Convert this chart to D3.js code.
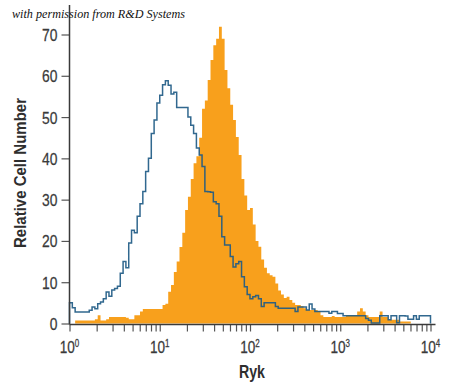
<!DOCTYPE html>
<html><head><meta charset="utf-8">
<script src="https://cdn.jsdelivr.net/npm/d3@7"></script>
<style>body{margin:0;background:#fff}svg{display:block}</style>
</head><body><svg id="c" width="450" height="387"></svg>
<script>
// ---- data ----
const binsPerDecade = 32;            // histogram channels per log decade, starting at 10^0
const controlCounts = [
  5.0,3.8,2.8,2.8,2.8,2.8,2.8,3.2,4.0,3.6,
  4.8,5.2,6.0,7.6,6.6,8.1,8.5,9.0,12.2,15.0,
  13.5,19.5,22.6,22.0,26.0,29.0,32.0,36.8,40.0,46.0,
  49.3,53.4,55.3,57.8,58.8,57.7,55.6,56.0,52.3,52.3,
  52.3,52.3,50.0,48.0,46.0,42.5,40.8,38.0,32.0,31.9,
  31.8,29.5,29.0,26.0,21.0,19.0,19.0,16.2,13.7,14.5,
  15.0,11.3,8.9,7.0,6.0,6.5,6.8,6.0,4.1,5.0,
  5.0,5.0,5.0,4.1,3.7,3.7,3.7,3.7,3.7,3.7,
  2.9,4.0,4.0,4.0,3.3,4.7,3.5,2.9,2.9,2.9,
  2.9,2.9,2.5,2.9,2.9,2.4,2.4,1.9,1.9,1.9,
  1.9,1.9,1.9,1.9,1.9,1.2,0.8,0.1,0.1,0.1,
  1.9,1.9,1.9,0.9,1.9,1.9,0.2,1.9,1.9,1.8,
  1.0,1.0,1.9,1.0,1.9,1.9,1.9,1.9
];
const rykCounts = [
  0,0,0.7,0.7,0.7,0.7,0.7,0.7,0.7,1.0,
  2.0,0.7,0.7,1.0,1.6,1.6,1.6,1.6,1.6,1.6,
  1.4,1.0,1.0,2.0,2.0,2.9,3.5,3.5,3.5,3.5,
  3.5,3.5,3.5,4.5,4.8,7.7,9.3,12.5,15.0,18.5,
  22.0,27.5,30.7,35.0,38.8,40.5,45.0,52.0,54.0,59.0,
  63.8,67.4,69.0,71.9,69.0,61.4,57.0,53.0,49.3,45.2,
  40.8,35.0,31.0,27.5,28.0,24.0,20.0,18.6,15.5,13.5,
  12.2,11.7,11.3,9.7,8.0,7.0,6.2,6.5,5.7,5.0,
  4.5,4.5,4.2,3.7,3.3,3.3,3.3,3.3,3.0,2.0,
  1.6,1.6,1.6,1.8,1.6,1.6,1.6,1.6,2.0,2.0,
  2.0,2.0,2.9,3.7,2.9,2.0,1.6,1.6,1.6,1.6,
  2.9,1.6,1.6,0.9,0.9,0.9,0.9,0.5,0.5,0.5,
  0.5,0,0,0,0,0,0,0
];
const xTickExponents = [0, 1, 2, 3, 4];
const xMinorMultipliers = [2, 3, 4, 5, 6, 7, 8, 9];
const yTickValues = [0, 10, 20, 30, 40, 50, 60, 70];
const titleText = "with permission from R&D Systems";
const xTitleText = "Ryk";
const yTitleText = "Relative Cell Number";

// ---- drawing ----
const svg = d3.select("#c");
const x = d3.scaleLog().domain([1, 1e4]).range([69.5, 430.5]);
const y = d3.scaleLinear().domain([0, 70]).range([323.5, 34.5]);
const edge = i => Math.pow(10, i / binsPerDecade);

function stepPoints(counts) {
  const pts = counts.map((v, i) => [edge(i), v]);
  pts.push([edge(counts.length), counts[counts.length - 1]]);
  return pts;
}

// Ryk filled histogram
const area = d3.area()
  .x(d => x(d[0])).y0(y(0)).y1(d => y(d[1]))
  .curve(d3.curveStepAfter);
svg.append("path")
  .attr("d", area(stepPoints(rykCounts)))
  .attr("fill", "#f8a01c");

// Control outline histogram
const ctrlPts = [[edge(0), 0], ...stepPoints(controlCounts), [edge(controlCounts.length), 0]];
const line = d3.line().x(d => x(d[0])).y(d => y(d[1])).curve(d3.curveStepAfter);
svg.append("path")
  .attr("d", line(ctrlPts))
  .attr("fill", "none")
  .attr("stroke", "#1f5b86")
  .attr("stroke-width", 1.5)
  .attr("stroke-opacity", 0.92);

const axisColor = "#3a3a3a";
const labelFont = "'Liberation Sans', Arial, sans-serif";
const squeeze = 0.84;

// Y axis
const yAxis = svg.append("g").attr("transform", `translate(${x(1)},0)`)
  .call(d3.axisLeft(y).tickValues(yTickValues).tickSize(8).tickPadding(3));
yAxis.select(".domain").remove();
yAxis.selectAll(".tick line").attr("stroke", "#555").attr("stroke-width", 1.2);
yAxis.selectAll(".tick text")
  .attr("font-family", labelFont).attr("font-size", 16.5).attr("fill", "#3a3a3a")
  .attr("stroke", "#3a3a3a").attr("stroke-width", 0.25)
  .attr("x", -12 / squeeze).attr("dy", "0.36em")
  .attr("transform", `scale(${squeeze},1)`);
svg.append("line")
  .attr("x1", x(1)).attr("x2", x(1)).attr("y1", 5).attr("y2", y(0) + 1)
  .attr("stroke", axisColor).attr("stroke-width", 1.5);

// X axis
const xTickVals = [];
xTickExponents.forEach(e => {
  xTickVals.push(Math.pow(10, e));
  if (e < 4) xMinorMultipliers.forEach(m => xTickVals.push(m * Math.pow(10, e)));
});
const xAxis = svg.append("g").attr("transform", `translate(0,${y(0) + 1})`)
  .call(d3.axisBottom(x).tickValues(xTickVals).tickSize(7).tickFormat(""));
xAxis.select(".domain").remove();
xAxis.selectAll(".tick line").attr("stroke", "#555").attr("stroke-width", 1.2);
svg.append("line")
  .attr("x1", x(1)).attr("x2", x(1e4) + 5).attr("y1", y(0) + 1).attr("y2", y(0) + 1)
  .attr("stroke", axisColor).attr("stroke-width", 1.5);

xTickExponents.forEach(e => {
  const g = svg.append("g")
    .attr("transform", `translate(${x(Math.pow(10, e))},352.5) scale(0.8,1)`);
  const t = g.append("text")
    .attr("x", 0).attr("y", 0)
    .attr("text-anchor", "middle")
    .attr("font-family", labelFont).attr("font-size", 17).attr("fill", "#3a3a3a")
    .attr("stroke", "#3a3a3a").attr("stroke-width", 0.25);
  t.append("tspan").text("10");
  t.append("tspan").attr("dy", -5.5).attr("font-size", 10).text(String(e));
});

// Titles
svg.append("text")
  .attr("x", 252).attr("y", 378).attr("text-anchor", "middle")
  .attr("font-family", labelFont).attr("font-weight", "bold")
  .attr("font-size", 17.5).attr("fill", "#2e2e2e")
  .attr("textLength", 26).attr("lengthAdjust", "spacingAndGlyphs")
  .text(xTitleText);
svg.append("text")
  .attr("transform", "translate(26,173) rotate(-90)").attr("text-anchor", "middle")
  .attr("font-family", labelFont).attr("font-weight", "bold")
  .attr("font-size", 17).attr("fill", "#2e2e2e")
  .attr("textLength", 150).attr("lengthAdjust", "spacingAndGlyphs")
  .text(yTitleText);
svg.append("text")
  .attr("x", 12).attr("y", 18)
  .attr("font-family", "'Liberation Serif', 'DejaVu Serif', serif").attr("font-style", "italic")
  .attr("font-size", 13.5).attr("fill", "#111")
  .attr("textLength", 173).attr("lengthAdjust", "spacingAndGlyphs")
  .text(titleText);
</script>
</body></html>
